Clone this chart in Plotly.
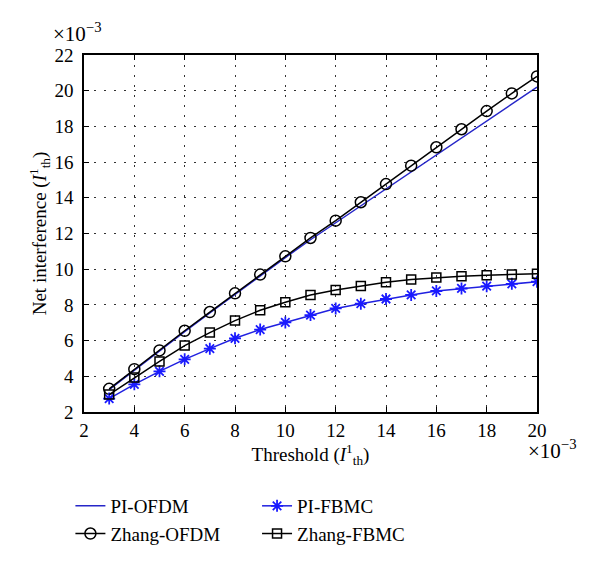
import plotly.graph_objects as go

threshold = [3, 4, 5, 6, 7, 8, 9, 10, 11, 12, 13, 14, 15, 16, 17, 18, 19, 20]
pi_ofdm = [3.25, 4.35, 5.4, 6.5, 7.55, 8.6, 9.6, 10.65, 11.65, 12.6, 13.55, 14.5, 15.45, 16.4, 17.35, 18.3, 19.25, 20.2]
zhang_ofdm = [3.3, 4.4, 5.45, 6.55, 7.6, 8.65, 9.7, 10.72, 11.75, 12.72, 13.75, 14.77, 15.8, 16.83, 17.84, 18.86, 19.85, 20.8]
pi_fbmc = [2.75, 3.55, 4.28, 4.95, 5.55, 6.13, 6.62, 7.02, 7.43, 7.8, 8.07, 8.33, 8.56, 8.78, 8.92, 9.05, 9.18, 9.3]
zhang_fbmc = [2.98, 3.93, 4.83, 5.72, 6.45, 7.12, 7.7, 8.15, 8.55, 8.84, 9.06, 9.27, 9.42, 9.53, 9.6, 9.66, 9.71, 9.75]
x_ticks = [2, 4, 6, 8, 10, 12, 14, 16, 18, 20]
y_ticks = [2, 4, 6, 8, 10, 12, 14, 16, 18, 20, 22]

FONT = "Liberation Serif, Times New Roman, DejaVu Serif, serif"
FS = 19
fig = go.Figure()
fig.add_trace(go.Scatter(x=threshold, y=pi_ofdm, mode="lines", name="PI-OFDM",
                         line=dict(color="#2626c8", width=1.5), legend="legend"))
fig.add_trace(go.Scatter(x=threshold, y=zhang_ofdm, mode="lines+markers", name="Zhang-OFDM",
                         line=dict(color="black", width=1.5),
                         marker=dict(symbol="circle-open", size=11, color="black", line=dict(width=1.5)),
                         legend="legend"))
fig.add_trace(go.Scatter(x=threshold, y=pi_fbmc, mode="lines+markers", name="PI-FBMC",
                         line=dict(color="#2020e0", width=1.5),
                         marker=dict(symbol="asterisk-open", size=10, color="#1a1aff", line=dict(width=1.8, color="#1a1aff")),
                         legend="legend2"))
fig.add_trace(go.Scatter(x=threshold, y=zhang_fbmc, mode="lines+markers", name="Zhang-FBMC",
                         line=dict(color="black", width=1.5),
                         marker=dict(symbol="square-open", size=9, color="black", line=dict(width=1.5)),
                         legend="legend2"))

axis_common = dict(showline=True, linecolor="black", linewidth=1.5, mirror="ticks",
                   ticks="inside", ticklen=5, tickcolor="black", tickwidth=1.2,
                   showgrid=True, gridcolor="#333333", griddash="1.5px,8.5px", gridwidth=1.2,
                   zeroline=False, tickfont=dict(family=FONT, size=FS, color="black"))

fig.update_xaxes(range=[2, 20], tickvals=x_ticks, ticktext=[str(v) for v in x_ticks],
                 title=dict(text="Threshold (<i>I</i><sup>1</sup><sub>th</sub>)",
                            font=dict(family=FONT, size=FS, color="black"), standoff=6),
                 **axis_common)
fig.update_yaxes(range=[2, 22], tickvals=y_ticks, ticktext=[str(v) for v in y_ticks],
                 ticklabelstandoff=5,
                 title=dict(text="Net interference (<i>I</i><sup>1</sup><sub>th</sub>)",
                            font=dict(family=FONT, size=FS, color="black"), standoff=3),
                 **axis_common)

legend_common = dict(font=dict(family=FONT, size=FS, color="black"), bgcolor="rgba(0,0,0,0)",
                     yanchor="top", xanchor="left", tracegroupgap=0, itemwidth=30)
fig.update_layout(
    width=600, height=565,
    margin=dict(l=76, r=71, t=47, b=161),
    paper_bgcolor="white", plot_bgcolor="white",
    showlegend=True,
    legend=dict(x=-0.03, y=-0.21, **legend_common),
    legend2=dict(x=0.382, y=-0.21, **legend_common),
    annotations=[
        dict(text="×10<sup>−3</sup>", xref="paper", yref="paper", x=-0.072, y=1.02,
             xanchor="left", yanchor="bottom", showarrow=False,
             font=dict(family=FONT, size=21, color="black")),
        dict(text="×10<sup>−3</sup>", xref="paper", yref="paper", x=0.976, y=-0.063,
             xanchor="left", yanchor="top", showarrow=False,
             font=dict(family=FONT, size=21, color="black")),
    ],
)
fig.write_html("out.html")
